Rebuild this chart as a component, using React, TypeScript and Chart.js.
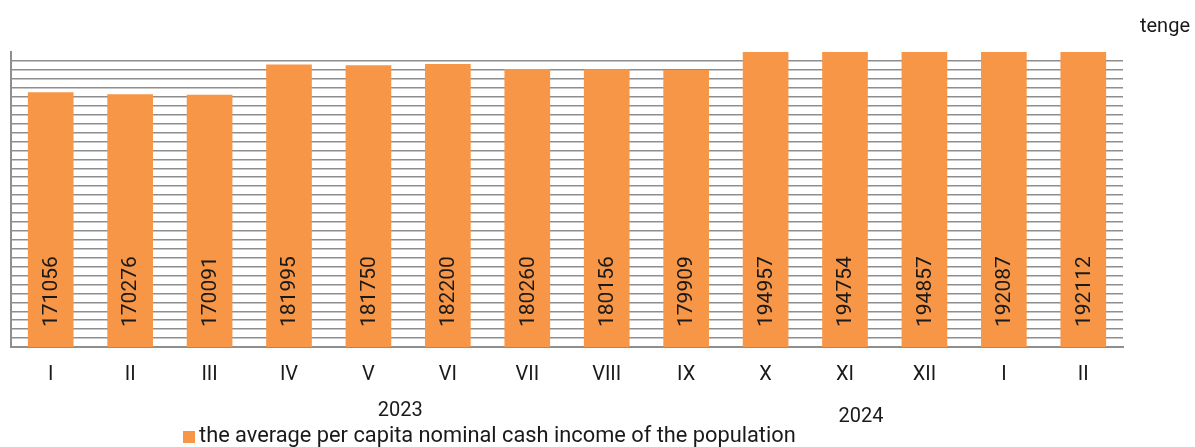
import React, { useEffect, useRef } from "react";
import { Chart, registerables } from "chart.js";

Chart.register(...registerables);

const categories: string[] = ["I", "II", "III", "IV", "V", "VI", "VII", "VIII", "IX", "X", "XI", "XII", "I", "II"];
const incomeValues: number[] = [171056, 170276, 170091, 181995, 181750, 182200, 180260, 180156, 179909, 194957, 194754, 194857, 192087, 192112];
const seriesLabel = "the average per capita nominal cash income of the population";
const yearLabels: string[] = ["2023", "2024"];
const unitLabel = "tenge";

const Y_MIN = 70000;
const Y_MAX = 187000;
const Y_STEP = 3500;

const BAR_COLOR = "#F79646";
const GRID_COLOR = "#8e8e8e";
const TEXT_COLOR = "#1a1a1a";
const FONT = "Roboto";

const overlayPlugin = {
  id: "overlay",
  afterDatasetsDraw(chart: any) {
    const ctx = chart.ctx;
    const meta = chart.getDatasetMeta(0);
    const area = chart.chartArea;
    ctx.save();
    ctx.fillStyle = TEXT_COLOR;
    ctx.font = `21px ${FONT}`;
    ctx.textBaseline = "middle";
    ctx.textAlign = "left";
    meta.data.forEach((bar: any, i: number) => {
      ctx.save();
      ctx.translate(bar.x, area.bottom - 20);
      ctx.rotate(-Math.PI / 2);
      ctx.fillText(String(incomeValues[i]), 0, 1);
      ctx.restore();
    });
    ctx.restore();
  },
  afterDraw(chart: any) {
    const ctx = chart.ctx;
    const area = chart.chartArea;
    const xs = chart.scales.x;
    ctx.save();
    ctx.fillStyle = TEXT_COLOR;
    ctx.font = `20px ${FONT}`;
    ctx.textBaseline = "middle";
    ctx.textAlign = "center";
    ctx.fillText(yearLabels[0], xs.getPixelForValue(4.4), area.bottom + 64);
    ctx.fillText(yearLabels[1], xs.getPixelForValue(10.2), area.bottom + 70);
    // unit
    ctx.textAlign = "right";
    ctx.fillText(unitLabel, chart.width - 5, 27);
    // legend
    ctx.fillStyle = BAR_COLOR;
    ctx.fillRect(183, 431, 12, 12);
    ctx.fillStyle = TEXT_COLOR;
    ctx.textAlign = "left";
    ctx.font = `21.8px ${FONT}`;
    ctx.fillText(seriesLabel, 199, 437);
    ctx.restore();
  },
};

export default function App() {
  const canvasRef = useRef<HTMLCanvasElement | null>(null);

  useEffect(() => {
    if (!canvasRef.current) return;
    const chart = new Chart(canvasRef.current, {
      type: "bar",
      data: {
        labels: categories,
        datasets: [
          {
            label: seriesLabel,
            data: incomeValues,
            backgroundColor: BAR_COLOR,
            borderWidth: 0,
            categoryPercentage: 1,
            barPercentage: 0.575,
          },
        ],
      },
      options: {
        animation: false,
        responsive: true,
        maintainAspectRatio: false,
        layout: { padding: { left: 11, right: 72, top: 52, bottom: 44 } },
        plugins: {
          legend: { display: false },
          tooltip: { enabled: false },
        },
        scales: {
          x: {
            grid: { display: false, drawTicks: false },
            border: { display: true, color: GRID_COLOR, width: 2 },
            ticks: {
              color: TEXT_COLOR,
              font: { family: FONT, size: 20 },
              padding: 16,
              maxRotation: 0,
              autoSkip: false,
            },
          },
          y: {
            min: Y_MIN,
            max: Y_MAX,
            grid: {
              drawTicks: false,
              lineWidth: 1.4,
              color: (c: any) => (c.tick && c.tick.value >= Y_MAX ? "rgba(0,0,0,0)" : GRID_COLOR),
            },
            border: { display: true, color: GRID_COLOR, width: 2 },
            ticks: { display: false, stepSize: Y_STEP },
          },
        },
      },
      plugins: [overlayPlugin],
    });
    return () => chart.destroy();
  }, []);

  return (
    <div style={{ position: "absolute", left: 0, top: 0, width: 1195, height: 447, background: "#fff" }}>
      <canvas ref={canvasRef} />
    </div>
  );
}
